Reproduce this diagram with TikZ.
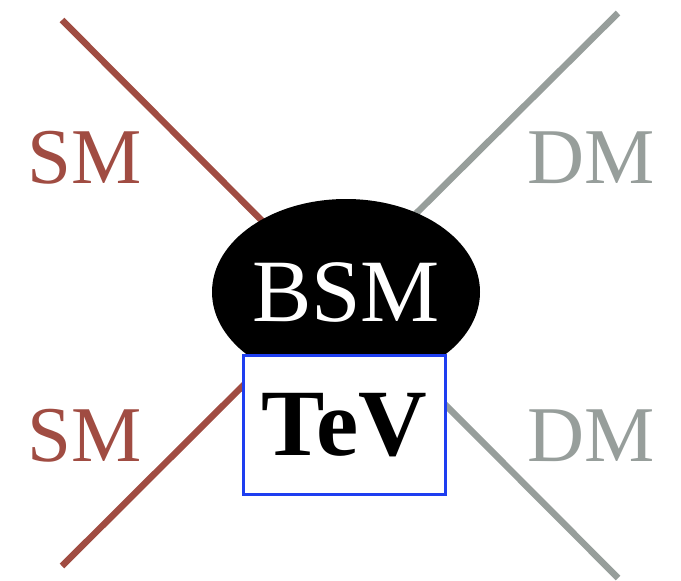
\documentclass[tikz,border=0pt]{standalone}
\usepackage{fontspec}
\setmainfont{Liberation Serif}
\usetikzlibrary{shapes.geometric}
\definecolor{sm-red}{RGB}{160,76,66}
\definecolor{dm-grey}{RGB}{151,158,155}
\definecolor{tev-blue}{RGB}{30,62,240}

\begin{document}
\begin{tikzpicture}[x=1pt, y=-1pt,
            leg/.style={line width=6.5pt},
            tag/.style={font=\fontsize{79}{79}\selectfont, inner sep=0pt, anchor=base}]
  \useasboundingbox (0,0) rectangle (681,581);
  \coordinate (vtx) at (335,294);
  \coordinate (smtop) at (62,20);
  \coordinate (smbot) at (62,566);
  \coordinate (dmtop) at (618,13);
  \coordinate (dmbot) at (618,578);
  \draw[leg, sm-red] (smtop) -- (vtx);
  \draw[leg, sm-red] (smbot) -- (vtx);
  \draw[leg, dm-grey] (dmtop) -- (vtx);
  \draw[leg, dm-grey] (dmbot) -- (vtx);
  \node[ellipse, fill=black, text=white, minimum width=268pt, minimum height=186pt,
        inner sep=0pt, font=\fontsize{89}{89}\selectfont] (bsm) at (346,292) {BSM};
  \node[draw=tev-blue, line width=3pt, fill=white, minimum width=202pt,
        minimum height=139pt, inner sep=0pt,
        font=\fontsize{95}{95}\bfseries\selectfont] (tev) at (344,425) {TeV};
  \node[tag, sm-red] (smup) at (85,183) {SM};
  \node[tag, sm-red] (smdown) at (85,461) {SM};
  \node[tag, dm-grey] (dmup) at (591,183) {DM};
  \node[tag, dm-grey] (dmdown) at (591,461) {DM};
\end{tikzpicture}
\end{document}
